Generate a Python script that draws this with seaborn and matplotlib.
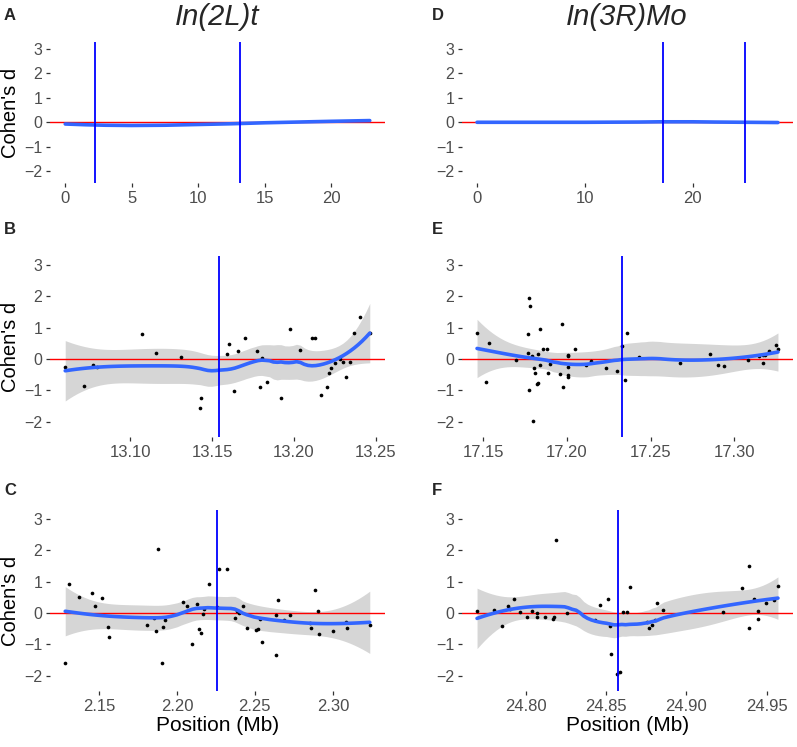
import numpy as np
import pandas as pd
import seaborn as sns
import matplotlib
matplotlib.use("Agg")
import matplotlib.pyplot as plt

# ---- data ----
# whole-chromosome smooths (panels A, D)
a_pos = [0, 1.5, 3, 5, 7.5, 10, 12.5, 15, 17.5, 20, 22.9]
a_d = [-0.07, -0.10, -0.12, -0.13, -0.12, -0.09, -0.06, -0.02, 0.01, 0.04, 0.07]
d_pos = [0, 5, 10, 15, 17, 20, 22, 25, 27.9]
d_d = [0.00, 0.00, 0.00, 0.01, 0.02, 0.02, 0.01, 0.00, -0.01]

# In(2L)t proximal breakpoint window (panel C)
c_pos = [2.1284, 2.1310, 2.1375, 2.1457, 2.1478, 2.1517, 2.1560, 2.1567, 2.1806, 2.1851,
         2.1866, 2.1879, 2.1903, 2.1909, 2.1927, 2.2041, 2.2067, 2.2097, 2.2129, 2.2144,
         2.2153, 2.2166, 2.2177, 2.2209, 2.2259, 2.2269, 2.2321, 2.2373, 2.2386, 2.2397,
         2.2427, 2.2450, 2.2509, 2.2519, 2.2532, 2.2543, 2.2636, 2.2638, 2.2647, 2.2687,
         2.2726, 2.2853, 2.2862, 2.2886, 2.2903, 2.2914, 2.3002, 2.3082, 2.3088, 2.3237]
c_d = [-1.59, 0.91, 0.50, 0.64, 0.24, 0.49, -0.43, -0.77, -0.39, -0.17,
       -0.57, 2.03, -1.58, -0.45, -0.23, 0.35, 0.24, -0.97, 0.29, -0.52,
       -0.62, -0.04, 0.12, 0.92, 0.18, 1.39, 1.41, -0.15, 0.07, -0.01,
       0.22, -0.46, -0.55, -0.52, -0.19, -0.92, -1.35, -0.07, 0.41, -0.22,
       -0.05, -0.33, -0.49, 0.75, 0.06, -0.67, -0.56, -0.30, -0.48, -0.38]

# In(2L)t distal breakpoint window (panel B)
b_pos = [13.0604, 13.0717, 13.0774, 13.0799, 13.1072, 13.1156, 13.1308, 13.1425, 13.1435,
         13.1589, 13.1606, 13.1657, 13.1634, 13.1698, 13.1774, 13.1795, 13.1805, 13.1836,
         13.1922, 13.1973, 13.2039, 13.2107, 13.2125, 13.2164, 13.2201, 13.2216, 13.2226,
         13.2247, 13.2279, 13.2298, 13.2320, 13.2341, 13.2366, 13.2402, 13.2462]
b_d = [-0.26, -0.87, -0.20, -0.26, 0.81, 0.20, 0.05, -1.56, -1.23,
       0.15, 0.47, 0.26, -1.02, 0.67, 0.26, -0.88, 0.02, -0.72,
       -1.23, 0.96, 0.28, 0.68, 0.68, -1.14, -0.89, -0.44, -0.29,
       -0.13, -0.01, -0.08, -0.58, -0.09, 0.83, 1.35, 0.83]

# In(3R)Mo proximal breakpoint window (panel E)
e_pos = [17.1464, 17.1520, 17.1536, 17.1696, 17.1770, 17.1768, 17.1776, 17.1780, 17.1776,
         17.1790, 17.1802, 17.1800, 17.1810, 17.1821, 17.1825, 17.1829, 17.1837, 17.1837,
         17.1859, 17.1879, 17.1885, 17.1901, 17.1958, 17.1970, 17.1978, 17.2008, 17.2008,
         17.2008, 17.2008, 17.2008, 17.2048, 17.2115, 17.2147, 17.2234, 17.2298, 17.2331,
         17.2349, 17.2359, 17.2431, 17.2675, 17.2857, 17.2905, 17.2940, 17.3081, 17.3145,
         17.3169, 17.3169, 17.3183, 17.3208, 17.3248, 17.3260]
e_d = [0.84, -0.74, 0.52, -0.03, 0.80, 0.20, 1.94, 1.70, -0.99,
       0.09, -0.29, -1.97, -0.43, -0.80, -0.75, 0.17, -0.20, 0.95,
       0.33, 0.31, -0.43, -0.15, -0.49, 1.12, -0.89, 0.14, 0.10,
       -0.24, -0.51, -0.58, 0.33, -0.19, -0.05, -0.30, -0.39, 0.40,
       -0.66, 0.84, 0.08, -0.14, 0.17, -0.20, -0.23, -0.04, 0.10,
       -0.13, 0.14, 0.14, 0.27, 0.46, 0.31]

# In(3R)Mo distal breakpoint window (panel F)
f_pos = [24.7693, 24.7797, 24.7849, 24.7886, 24.7898, 24.7921, 24.7961, 24.8004, 24.8035,
         24.8066, 24.8068, 24.8114, 24.8166, 24.8176, 24.8185, 24.8253, 24.8432, 24.8463,
         24.8508, 24.8521, 24.8531, 24.8568, 24.8587, 24.8602, 24.8629, 24.8650, 24.8755,
         24.8768, 24.8786, 24.8805, 24.8817, 24.8851, 24.9230, 24.9349, 24.9392, 24.9392,
         24.9421, 24.9446, 24.9446, 24.9496, 24.9546, 24.9571]
f_d = [0.05, 0.10, -0.41, 0.23, 0.12, 0.44, 0.03, -0.14, 0.07,
       -0.01, -0.11, -0.12, -0.18, -0.14, 2.34, -0.01, -0.21, 0.27,
       0.45, -0.41, -1.29, -1.93, -1.87, 0.04, 0.04, 0.84, -0.28,
       -0.49, -0.39, -0.21, 0.32, 0.10, 0.03, 0.79, 1.49, -0.49,
       0.46, 0.06, -0.20, 0.31, 0.40, 0.86]

# breakpoints (Mb)
bp_2lt = [2.2259, 13.1542]
bp_3rmo = [17.2327, 24.8571]


# local quadratic loess with approximate 95% band
def loess(x, y, span=0.75, n_grid=80):
    x = np.asarray(x, float)
    y = np.asarray(y, float)
    n = len(x)
    q = max(int(np.floor(n * span)), 4)

    def hat_row(x0):
        d = np.abs(x - x0)
        h = np.sort(d)[q - 1]
        w = np.clip(1 - (d / h) ** 3, 0, None) ** 3
        u = (x - x0) / h
        X = np.column_stack([np.ones(n), u, u ** 2])
        XtW = X.T * w
        return np.linalg.solve(XtW @ X, XtW)[0]

    L = np.array([hat_row(v) for v in x])
    R = np.eye(n) - L
    s = np.sqrt(np.sum((R @ y) ** 2) / np.trace(R.T @ R))
    xs = np.linspace(x.min(), x.max(), n_grid)
    rows = np.array([hat_row(v) for v in xs])
    fit = rows @ y
    se = s * np.sqrt(np.sum(rows ** 2, axis=1))
    return pd.DataFrame({"pos": xs, "fit": fit, "lo": fit - 2 * se, "hi": fit + 2 * se})


sns.set_theme(style="white")
plt.rcParams["font.family"] = ["Liberation Sans", "DejaVu Sans"]

W, H = 797, 747
fig = plt.figure(figsize=(W / 100, H / 100), dpi=100)


def add_ax(x0, y0, x1, y1):
    return fig.add_axes([x0 / W, 1 - y1 / H, (x1 - x0) / W, (y1 - y0) / H])


def style_ax(ax, xticks, fmt):
    sns.despine(ax=ax, left=True, bottom=True)
    ax.set_ylim(-2.48, 3.28)
    ax.set_yticks([-2, -1, 0, 1, 2, 3])
    ax.set_xticks(xticks)
    ax.set_xticklabels([fmt.format(t) for t in xticks])
    ax.tick_params(axis="both", direction="out", length=3, width=0.9, color="#333333",
                   labelcolor="#4D4D4D", pad=2.5, bottom=True, left=True)
    ax.tick_params(axis="x", labelsize=12)
    ax.tick_params(axis="y", labelsize=11.5)
    ax.set_xlabel("")
    ax.set_ylabel("")


def overview(ax, pos, d, bps, xticks):
    ax.axhline(0, color="#FF0000", lw=1.0, zorder=1)
    sns.lineplot(x=pos, y=d, ax=ax, color="#3366FF", lw=2.6, zorder=2)
    for b in bps:
        ax.axvline(b, color="#0000FF", lw=1.3, zorder=3)
    ax.set_xlim(min(pos) - 0.05 * (max(pos) - min(pos)), max(pos) + 0.05 * (max(pos) - min(pos)))
    style_ax(ax, xticks, "{:g}")


def window(ax, pos, d, bp, xticks, span):
    sm = loess(pos, d, span)
    ax.fill_between(sm["pos"], sm["lo"], sm["hi"], color="#999999", alpha=0.4, lw=0, zorder=1)
    ax.axhline(0, color="#FF0000", lw=1.0, zorder=2)
    sns.scatterplot(x=pos, y=d, ax=ax, color="black", s=7, linewidth=0, zorder=3)
    sns.lineplot(data=sm, x="pos", y="fit", ax=ax, color="#3366FF", lw=2.6, zorder=4)
    ax.axvline(bp, color="#0000FF", lw=1.3, zorder=5)
    rng = max(pos) - min(pos)
    ax.set_xlim(min(pos) - 0.05 * rng, max(pos) + 0.05 * rng)
    style_ax(ax, xticks, "{:.2f}")


axA = add_ax(50, 42, 385, 183)
axB = add_ax(50, 256, 385, 437)
axC = add_ax(50, 510, 385, 691)
axD = add_ax(462, 42, 793, 183)
axE = add_ax(462, 256, 793, 437)
axF = add_ax(462, 510, 793, 691)

overview(axA, a_pos, a_d, bp_2lt, [0, 5, 10, 15, 20])
overview(axD, d_pos, d_d, bp_3rmo, [0, 10, 20])
window(axB, b_pos, b_d, bp_2lt[1], [13.10, 13.15, 13.20, 13.25], 0.75)
window(axC, c_pos, c_d, bp_2lt[0], [2.15, 2.20, 2.25, 2.30], 0.75)
window(axE, e_pos, e_d, bp_3rmo[0], [17.15, 17.20, 17.25, 17.30], 0.75)
window(axF, f_pos, f_d, bp_3rmo[1], [24.80, 24.85, 24.90, 24.95], 0.75)

# y-axis titles placed in figure coordinates so they are not clipped
for yc in ((42 + 183) / 2, (256 + 437) / 2, (510 + 691) / 2):
    fig.text(11 / W, 1 - yc / H, "Cohen's d", ha="center", va="center",
             rotation=90, fontsize=14.5, color="black")
for ax in (axC, axF):
    ax.set_xlabel("Position (Mb)", fontsize=15, color="black", labelpad=2)

fig.text(217 / W, 1 - 17 / H, "In(2L)t", ha="center", va="center", fontsize=21, style="italic")
fig.text(627 / W, 1 - 17 / H, "In(3R)Mo", ha="center", va="center", fontsize=21, style="italic")

for lab, x, y in [("A", 4, 15), ("B", 4, 229), ("C", 4, 491),
                  ("D", 432, 16), ("E", 432, 229), ("F", 432, 491)]:
    fig.text(x / W, 1 - y / H, lab, ha="left", va="center", fontsize=12, fontweight="bold")

fig.savefig("out.png", dpi=100)
